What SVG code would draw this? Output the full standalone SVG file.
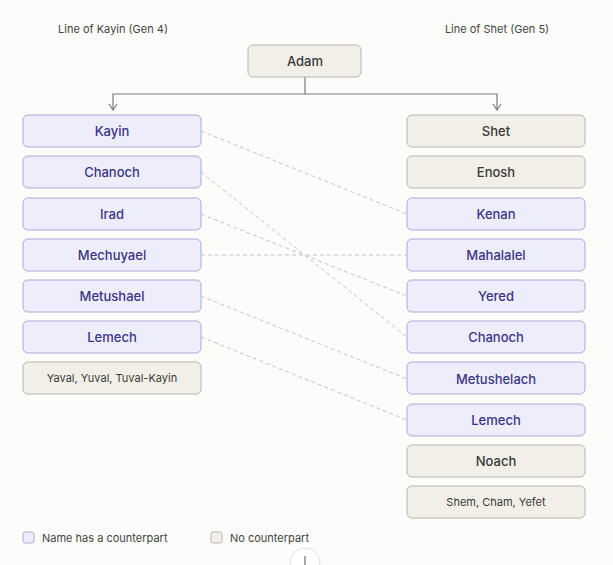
<svg xmlns="http://www.w3.org/2000/svg" width="613" height="565" viewBox="0 0 613 565">
<style>
text{font-family:Inter,"Liberation Sans",sans-serif;text-anchor:middle;dominant-baseline:central}
.m rect{fill:#ededfc;stroke:#a9a8dc;stroke-width:1}
.m text{fill:#3b3585;font-size:13px;font-weight:500}
.n rect{fill:#f1efe7;stroke:#b9b6ac;stroke-width:1}
.n text{fill:#3a3a38;font-size:13px;font-weight:500}
.n text.s{font-size:11px;font-weight:400}
.h{font-size:11px;fill:#444}
.d{stroke:#c6c5c0;stroke-width:1;stroke-dasharray:4 3;fill:none}
.ah{fill:none;stroke:#777;stroke-width:1.2}
</style>
<rect width="613" height="565" fill="#fcfcfa"/>
<text class="h" x="113" y="29">Line of Kayin (Gen 4)</text>
<text class="h" x="497" y="29">Line of Shet (Gen 5)</text>
<g id="connectors">
<path d="M305 77 V94 H113 V110 M305 94 H497 V110" fill="none" stroke="#7a7a78" stroke-width="1.2"/>
<path class="ah" d="M109 104 L113 110 L117 104"/>
<path class="ah" d="M493 104 L497 110 L501 104"/>
<path class="d" d="M201 131 L407 214"/>
<path class="d" d="M201 172 L407 337"/>
<path class="d" d="M201 214 L407 296"/>
<path class="d" d="M201 255 L407 255"/>
<path class="d" d="M201 296 L407 379"/>
<path class="d" d="M201 337 L407 420"/>
</g>
<g id="adam" class="n"><rect x="248" y="45" width="113" height="32" rx="5"/><text x="305" y="61">Adam</text></g>
<g id="kayin" class="m"><rect x="23" y="115" width="178" height="32" rx="5"/><text x="112" y="131">Kayin</text></g>
<g id="chanoch1" class="m"><rect x="23" y="156" width="178" height="32" rx="5"/><text x="112" y="172">Chanoch</text></g>
<g id="irad" class="m"><rect x="23" y="198" width="178" height="32" rx="5"/><text x="112" y="214">Irad</text></g>
<g id="mechuyael" class="m"><rect x="23" y="239" width="178" height="32" rx="5"/><text x="112" y="255">Mechuyael</text></g>
<g id="metushael" class="m"><rect x="23" y="280" width="178" height="32" rx="5"/><text x="112" y="296">Metushael</text></g>
<g id="lemech1" class="m"><rect x="23" y="321" width="178" height="32" rx="5"/><text x="112" y="337">Lemech</text></g>
<g id="yaval" class="n"><rect x="23" y="362" width="178" height="32" rx="5"/><text class="s" x="112" y="378">Yaval, Yuval, Tuval-Kayin</text></g>
<g id="shet" class="n"><rect x="407" y="115" width="178" height="32" rx="5"/><text x="496" y="131">Shet</text></g>
<g id="enosh" class="n"><rect x="407" y="156" width="178" height="32" rx="5"/><text x="496" y="172">Enosh</text></g>
<g id="kenan" class="m"><rect x="407" y="198" width="178" height="32" rx="5"/><text x="496" y="214">Kenan</text></g>
<g id="mahalalel" class="m"><rect x="407" y="239" width="178" height="32" rx="5"/><text x="496" y="255">Mahalalel</text></g>
<g id="yered" class="m"><rect x="407" y="280" width="178" height="32" rx="5"/><text x="496" y="296">Yered</text></g>
<g id="chanoch2" class="m"><rect x="407" y="321" width="178" height="32" rx="5"/><text x="496" y="337">Chanoch</text></g>
<g id="metushelach" class="m"><rect x="407" y="362" width="178" height="32" rx="5"/><text x="496" y="379">Metushelach</text></g>
<g id="lemech2" class="m"><rect x="407" y="404" width="178" height="32" rx="5"/><text x="496" y="420">Lemech</text></g>
<g id="noach" class="n"><rect x="407" y="445" width="178" height="32" rx="5"/><text x="496" y="461">Noach</text></g>
<g id="sons" class="n"><rect x="407" y="486" width="178" height="32" rx="5"/><text class="s" x="496" y="502">Shem, Cham, Yefet</text></g>
<g id="legend">
<rect x="23" y="532" width="11" height="11" rx="2.5" fill="#ededfc" stroke="#a9a8dc"/>
<text class="h" x="42" y="538" style="text-anchor:start">Name has a counterpart</text>
<rect x="211" y="532" width="11" height="11" rx="2.5" fill="#f1efe7" stroke="#b9b6ac"/>
<text class="h" x="230" y="538" style="text-anchor:start">No counterpart</text>
</g>
<circle cx="305" cy="563" r="15" fill="#fff" stroke="#e2e2de"/>
<path d="M305 556 V565" stroke="#555" stroke-width="1"/>
</svg>
